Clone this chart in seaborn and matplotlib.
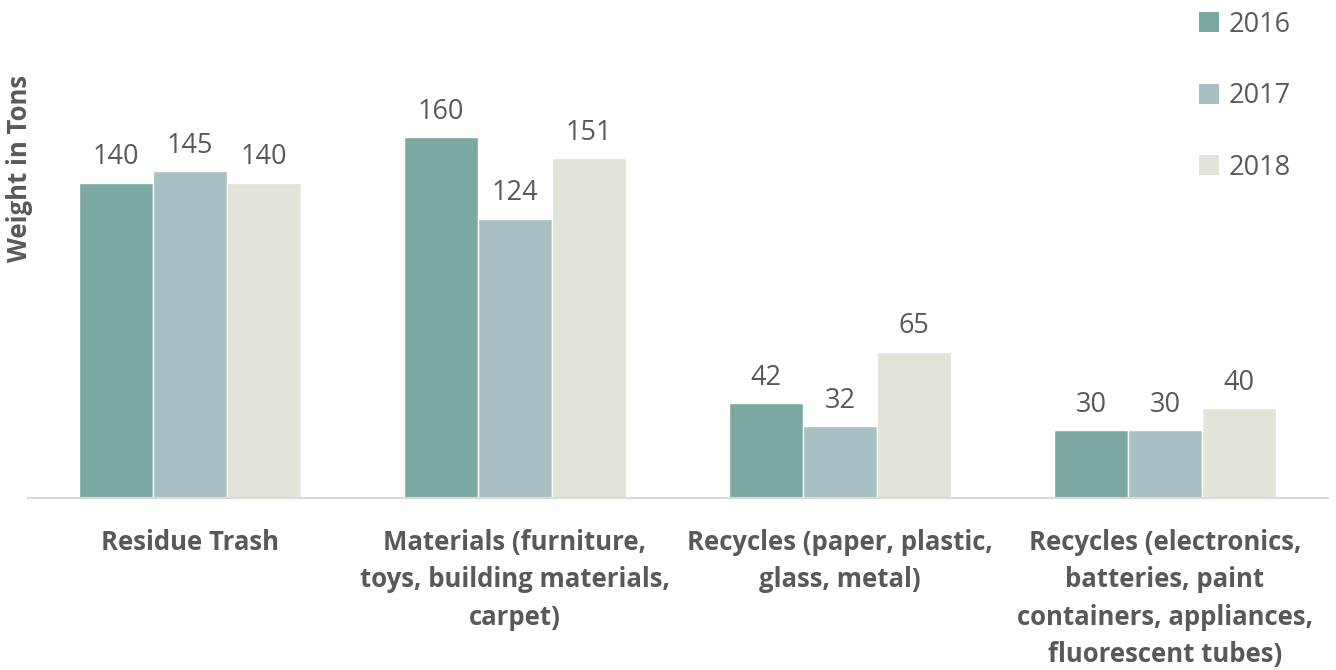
import matplotlib
matplotlib.use("Agg")
import matplotlib.pyplot as plt
import seaborn as sns
import pandas as pd
from matplotlib.patches import Patch

categories = ["Residue Trash",
              "Materials (furniture,\ntoys, building materials,\ncarpet)",
              "Recycles (paper, plastic,\nglass, metal)",
              "Recycles (electronics,\nbatteries, paint\ncontainers, appliances,\nfluorescent tubes)"]
years = ["2016", "2017", "2018"]
values_2016 = [140, 160, 42, 30]
values_2017 = [145, 124, 32, 30]
values_2018 = [140, 151, 65, 40]
colors = ["#7BA8A1", "#A7C0C1", "#E2E4D7"]
text_color = "#595959"

sns.set_theme(style="white")
plt.rcParams['font.family'] = ['Open Sans', 'DejaVu Sans']

rows = []
for y, vals in zip(years, [values_2016, values_2017, values_2018]):
    for c, v in zip(categories, vals):
        rows.append({"Category": c, "Year": y, "Value": v})
df = pd.DataFrame(rows)

fig = plt.figure(figsize=(13.36, 6.7), dpi=100)
ax = fig.add_axes([27.5/1336, (670-498)/670, 1300/1336, 498/670])
sns.barplot(data=df, x="Category", y="Value", hue="Year", palette=colors,
            width=0.683, gap=0, ax=ax, legend=False, saturation=1)

ax.set_ylim(0, 221)
ax.set_xlim(-0.5, 3.5)
for container in ax.containers:
    ax.bar_label(container, fmt="%d", padding=8, fontsize=19.5, color=text_color)

ax.set_xlabel("")
ax.set_ylabel("")
ax.set_yticks([])
for s in ["top", "right", "left"]:
    ax.spines[s].set_visible(False)
ax.spines["bottom"].set_color("#D9D9D9")
ax.spines["bottom"].set_linewidth(1.5)
ax.tick_params(axis="x", length=0, pad=22)
for lbl in ax.get_xticklabels():
    lbl.set_fontsize(18.5)
    lbl.set_fontweight("bold")
    lbl.set_color(text_color)
    lbl.set_linespacing(1.5)
    lbl.set_verticalalignment("top")

fig.text(20/1336, 1 - 168/670, "Weight in Tons", rotation=90, ha="center", va="center",
         fontsize=18.5, fontweight="bold", color=text_color)

handles = [Patch(facecolor=c, edgecolor="none", label=y) for c, y in zip(colors, years)]
leg = fig.legend(handles=handles, loc="upper left", bbox_to_anchor=(1188/1336, 1 - 0/670),
                 frameon=False, fontsize=19.5, labelspacing=1.6, handlelength=0.75,
                 handleheight=0.75, handletextpad=0.35, borderaxespad=0)
for t in leg.get_texts():
    t.set_color(text_color)

fig.savefig("out.png", dpi=100)
